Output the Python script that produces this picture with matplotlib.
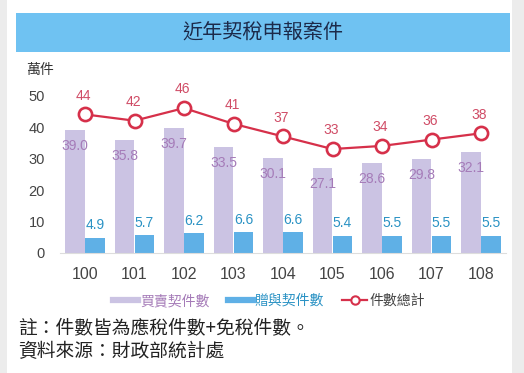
import matplotlib
matplotlib.use("Agg")
import numpy as np
import matplotlib.pyplot as plt
from matplotlib.lines import Line2D
from matplotlib.patches import Rectangle

plt.rcParams['font.family'] = ['Liberation Sans', 'Noto Sans CJK TC', 'DejaVu Sans']

# data (萬件)
years = ['100', '101', '102', '103', '104', '105', '106', '107', '108']
sale = [39.0, 35.8, 39.7, 33.5, 30.1, 27.1, 28.6, 29.8, 32.1]   # 買賣契件數
gift = [4.9, 5.7, 6.2, 6.6, 6.6, 5.4, 5.5, 5.5, 5.5]            # 贈與契件數
total = [44, 42, 46, 41, 37, 33, 34, 36, 38]                    # 件數總計

c_sale = '#cbc3e3'
c_gift = '#5fb0e6'
c_line = '#d6304a'
c_sale_txt = '#a57bb8'
c_gift_txt = '#2a92c4'
c_line_txt = '#d04c66'

fig = plt.figure(figsize=(5.24, 3.73), dpi=100)
fig.patch.set_facecolor('#ececec')
# white panel + blue title bar
fig.add_artist(Rectangle((7/524, 0), 505/524, 1, transform=fig.transFigure,
                         facecolor='white', edgecolor='none', zorder=0))
fig.add_artist(Rectangle((16/524, 1-52/373), 494/524, 39/373, transform=fig.transFigure,
                         facecolor='#6fc2f2', edgecolor='none', zorder=1))
fig.text(0.502, 1-32.5/373, '近年契稅申報案件', ha='center', va='center',
         fontsize=14.5, color='#1c2a4a', family=['Noto Sans CJK TC'])

ax = fig.add_axes([60.25/524, 1-253/373, 445.5/524, (253-79.75)/373])
ax.set_facecolor('none')
x = np.arange(len(years))
w = 0.39

ax.bar(x - 0.2, sale, width=w, color=c_sale, zorder=2)
ax.bar(x + 0.2, gift, width=w, color=c_gift, zorder=2)
ax.plot(x, total, color=c_line, lw=1.6, marker='o', ms=9.5, mfc='white',
        mec=c_line, mew=1.9, zorder=4)

for i in range(len(years)):
    ax.annotate(f'{sale[i]:.1f}', (x[i] - 0.2, sale[i]), xytext=(0, -11.5),
                textcoords='offset points', ha='center', va='center',
                fontsize=10, color=c_sale_txt, zorder=3)
    ax.annotate(f'{gift[i]:.1f}', (x[i] + 0.2, gift[i]), xytext=(0, 9),
                textcoords='offset points', ha='center', va='center',
                fontsize=10, color=c_gift_txt, zorder=3)
    ax.annotate(str(total[i]), (x[i], total[i]), xytext=(-1, 13.5),
                textcoords='offset points', ha='center', va='center',
                fontsize=10, color=c_line_txt, zorder=5)

ax.set_xlim(-0.5, len(years) - 0.5)
ax.set_ylim(0, 55)
ax.set_yticks([0, 10, 20, 30, 40, 50])
ax.set_xticks(x)
ax.set_xticklabels(years)
ax.tick_params(axis='y', length=0, pad=11, labelsize=10.5, labelcolor='#444444')
ax.tick_params(axis='x', length=0, pad=10, labelsize=11.5, labelcolor='#444444')
for s in ['top', 'right', 'left']:
    ax.spines[s].set_visible(False)
ax.spines['bottom'].set_color('#dddddd')

fig.text(26/524, 1-70/373, '萬件', ha='left', va='center', fontsize=10,
         color='#333333', family=['Noto Sans CJK TC'])

handles = [Line2D([], [], color=c_sale, lw=4.5),
           Line2D([], [], color=c_gift, lw=4.5),
           Line2D([], [], color=c_line, lw=1.6, marker='o', ms=6, mfc='white',
                  mec=c_line, mew=1.5)]
leg = fig.legend(handles, ['買賣契件數', '贈與契件數', '件數總計'], loc='center',
                 bbox_to_anchor=(269/524, 1-301/373), ncol=3, frameon=False,
                 handlelength=1.8, handletextpad=0.15, columnspacing=1.3,
                 prop={'family': ['Noto Sans CJK TC'], 'size': 10})
for t, c in zip(leg.get_texts(), [c_sale_txt, c_gift_txt, '#444444']):
    t.set_color(c)

fig.text(18/524, 1-328/373, '註：件數皆為應稅件數+免稅件數。', ha='left', va='center',
         fontsize=13.5, color='#222222', family=['Noto Sans CJK TC'])
fig.text(18/524, 1-352/373, '資料來源：財政部統計處', ha='left', va='center',
         fontsize=13.5, color='#222222', family=['Noto Sans CJK TC'])

fig.savefig('out.png', dpi=100)
